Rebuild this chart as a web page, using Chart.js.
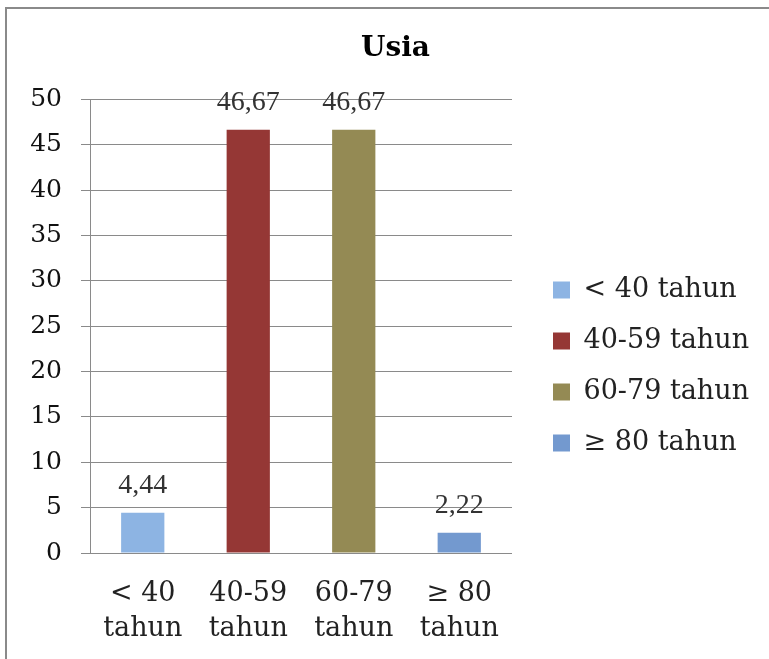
<!DOCTYPE html>
<html>
<head>
<meta charset="utf-8">
<script src="https://cdn.jsdelivr.net/npm/chart.js@4.4.1/dist/chart.umd.min.js"></script>
<style>
  html, body { margin: 0; padding: 0; background: #fff; }
  #wrap { position: relative; width: 769px; height: 659px; overflow: hidden; }
  #frame { position: absolute; left: 5px; top: 7px; width: 900px; height: 900px; border: 2px solid #8a8a8a; }
  canvas { position: absolute; left: 0; top: 0; }
</style>
</head>
<body>
<div id="wrap">
  <div id="frame"></div>
  <canvas id="chart" width="769" height="659"></canvas>
</div>
<script>
// data
const categories = [['< 40', 'tahun'], ['40-59', 'tahun'], ['60-79', 'tahun'], ['≥ 80', 'tahun']];
const seriesNames = ['< 40 tahun', '40-59 tahun', '60-79 tahun', '≥ 80 tahun'];
const percentValues = [4.44, 46.67, 46.67, 2.22];
const seriesColors = ['#8db4e3', '#953735', '#948a54', '#7399cf'];
const yMin = 0, yMax = 50, yStep = 5;

const datasets = seriesNames.map((name, i) => ({
  label: name,
  data: categories.map((_, j) => (j === i ? percentValues[i] : null)),
  backgroundColor: seriesColors[i],
  borderWidth: 0,
  grouped: false,
  barPercentage: 0.41,
  categoryPercentage: 1
}));

// value labels above each bar, comma decimals
const valueLabels = {
  id: 'valueLabels',
  afterDatasetsDraw(chart) {
    const ctx = chart.ctx;
    ctx.save();
    ctx.font = '28px "Liberation Serif"';
    ctx.fillStyle = '#333';
    ctx.textAlign = 'center';
    ctx.textBaseline = 'middle';
    chart.data.datasets.forEach((ds, i) => {
      chart.getDatasetMeta(i).data.forEach((bar, j) => {
        const v = ds.data[j];
        if (v == null) return;
        ctx.fillText(v.toFixed(2).replace('.', ','), bar.x, bar.y - 27);
      });
    });
    ctx.restore();
  }
};

// legend gets a fixed width so the plot ends where it does in the picture,
// then the title and legend are nudged into place
const placeBoxes = {
  id: 'placeBoxes',
  afterInit(chart) {
    const lg = chart.legend;
    const fit = lg.fit;
    lg.fit = function () {
      fit.call(this);
      this.width = 769 - 512;
    };
  },
  afterLayout(chart) {
    const lg = chart.legend;
    lg.left += 17;
    lg.top += 37; lg.bottom += 37;
    const tb = chart.titleBlock;
    tb.left += 11; tb.right += 11;
  }
};

new Chart(document.getElementById('chart'), {
  type: 'bar',
  data: { labels: categories, datasets: datasets },
  plugins: [valueLabels, placeBoxes],
  options: {
    responsive: false,
    animation: false,
    layout: { padding: 0 },
    plugins: {
      title: {
        display: true,
        text: 'Usia',
        color: '#000',
        font: { family: '"DejaVu Serif"', size: 28, weight: 'bold' },
        padding: { top: 32, bottom: 34 }
      },
      legend: {
        position: 'right',
        labels: {
          boxWidth: 17,
          boxHeight: 17,
          padding: 24,
          color: '#222',
          font: { family: '"DejaVu Serif"', size: 27 }
        }
      },
      tooltip: { enabled: false }
    },
    scales: {
      x: {
        grid: { display: false, drawTicks: false },
        border: { display: false },
        ticks: {
          color: '#222',
          padding: 23,
          maxRotation: 0,
          autoSkip: false,
          font: { family: '"DejaVu Serif"', size: 27, lineHeight: 1.3 }
        },
        afterFit(scale) { scale.height = 106; }
      },
      y: {
        min: yMin,
        max: yMax,
        grid: { color: '#8a8a8a', lineWidth: 1, tickLength: 9 },
        border: { display: true, color: '#8a8a8a', width: 1 },
        ticks: {
          stepSize: yStep,
          color: '#111',
          padding: 19,
          font: { family: '"DejaVu Serif"', size: 25 }
        },
        afterFit(scale) { scale.width = 90; }
      }
    }
  }
});
</script>
</body>
</html>
